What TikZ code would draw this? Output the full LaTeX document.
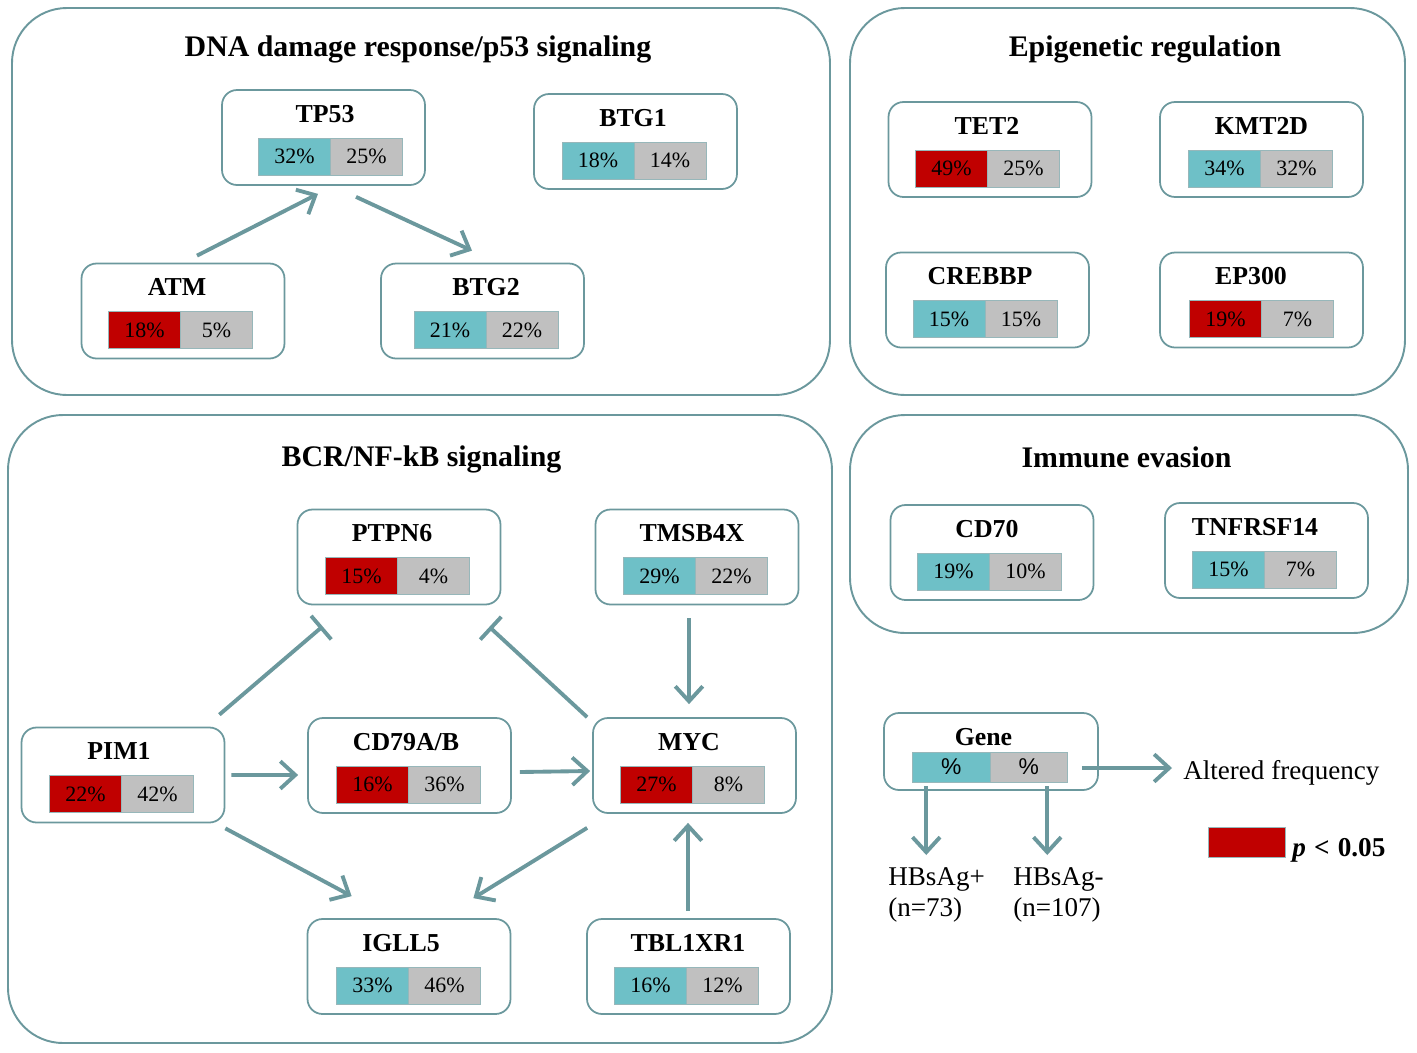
\documentclass[tikz,border=0pt]{standalone}
\usepackage{fontspec}
\setmainfont{Liberation Serif}
\setsansfont{Liberation Sans}
\usetikzlibrary{arrows.meta, calc}

\definecolor{linec}{RGB}{107,152,157}
\definecolor{tealc}{RGB}{110,192,199}
\definecolor{grayc}{RGB}{192,192,192}
\definecolor{redc}{RGB}{192,0,0}

\tikzstyle{panel}      = [draw=linec, line width=1.1pt, rounded corners=1.1cm]
\tikzstyle{paneltitle} = [anchor=base, inner sep=0pt, font=\fontsize{17}{20}\selectfont\bfseries]
\tikzstyle{genebox}    = [draw=linec, line width=1pt, rounded corners=3mm, minimum width=4.06cm, minimum height=1.9cm, inner sep=0pt]
\tikzstyle{genename}   = [anchor=base, inner sep=0pt, font=\fontsize{14.7}{16}\selectfont\bfseries]
\tikzstyle{pct}        = [draw=linec!70, line width=0.5pt, inner sep=0pt, minimum width=1.44cm, minimum height=0.74cm, font=\fontsize{12.5}{14}\selectfont]
\tikzstyle{cteal}      = [pct, fill=tealc]
\tikzstyle{cgray}      = [pct, fill=grayc]
\tikzstyle{cred}       = [pct, fill=redc]
\tikzstyle{act}        = [draw=linec, line width=2.2pt, -{Straight Barb[length=3mm, width=5.5mm]}]
\tikzstyle{inh}        = [draw=linec, line width=2.2pt, -{Bar[width=6.2mm]}]
\tikzstyle{legtext}    = [inner sep=0pt, font=\fontsize{15.4}{17.6}\selectfont]

\begin{document}
\begin{tikzpicture}[x={(0.02cm,0)}, y={(0,-0.02cm)}]
  \useasboundingbox (0,0) rectangle (1417,1052);

  % pathway panels
  \draw[panel] (12,8)   rectangle (830,395);
  \draw[panel] (850,8)  rectangle (1405,395);
  \draw[panel] (8,415)  rectangle (832,1043);
  \draw[panel] (850,415) rectangle (1408,633);

  \draw
    node[paneltitle] (dnatitle) at (418,56)    {DNA damage response/p53 signaling}
    node[paneltitle] (epititle) at (1145,56)   {Epigenetic regulation}
    node[paneltitle] (bcrtitle) at (421.5,466) {BCR/NF-kB signaling}
    node[paneltitle] (immtitle) at (1126.5,467) {Immune evasion};

  % DNA damage response/p53
  \draw
    node[genebox] (tp53) at (323.5,137.5) {}
    node[genename] (tp53n) at (325,122) {TP53}
    node[cteal] (tp53l) at (294.5,156.5) {32\%}
    node[cgray] (tp53r) at (366.5,156.5) {25\%}
    node[genebox] (btg1) at (635.5,141.5) {}
    node[genename] (btg1n) at (633,126) {BTG1}
    node[cteal] (btg1l) at (598,160.5) {18\%}
    node[cgray] (btg1r) at (670,160.5) {14\%}
    node[genebox] (atm) at (183,311) {}
    node[genename] (atmn) at (177,295.5) {ATM}
    node[cred] (atml) at (144.5,330) {18\%}
    node[cgray] (atmr) at (216.5,330) {5\%}
    node[genebox] (btg2) at (482.5,311) {}
    node[genename] (btg2n) at (486,295.5) {BTG2}
    node[cteal] (btg2l) at (450,330) {21\%}
    node[cgray] (btg2r) at (522,330) {22\%};

  % epigenetic regulation
  \draw
    node[genebox] (tet2) at (990,149.5) {}
    node[genename] (tet2n) at (987,134) {TET2}
    node[cred] (tet2l) at (951.5,168.5) {49\%}
    node[cgray] (tet2r) at (1023.5,168.5) {25\%}
    node[genebox] (kmt2d) at (1261.5,149.5) {}
    node[genename] (kmt2dn) at (1261.5,134) {KMT2D}
    node[cteal] (kmt2dl) at (1224.5,168.5) {34\%}
    node[cgray] (kmt2dr) at (1296.5,168.5) {32\%}
    node[genebox] (crebbp) at (987.5,300) {}
    node[genename] (crebbpn) at (980,284.5) {CREBBP}
    node[cteal] (crebbpl) at (949,319) {15\%}
    node[cgray] (crebbpr) at (1021,319) {15\%}
    node[genebox] (ep300) at (1261.5,300) {}
    node[genename] (ep300n) at (1251,284.5) {EP300}
    node[cred] (ep300l) at (1225.5,319) {19\%}
    node[cgray] (ep300r) at (1297.5,319) {7\%};

  % BCR/NF-kB
  \draw
    node[genebox] (ptpn6) at (399,557) {}
    node[genename] (ptpn6n) at (392,541.5) {PTPN6}
    node[cred] (ptpn6l) at (361.5,576) {15\%}
    node[cgray] (ptpn6r) at (433.5,576) {4\%}
    node[genebox] (tmsb4x) at (697,557) {}
    node[genename] (tmsb4xn) at (692,541.5) {TMSB4X}
    node[cteal] (tmsb4xl) at (659.5,576) {29\%}
    node[cgray] (tmsb4xr) at (731.5,576) {22\%}
    node[genebox] (pim1) at (123,775) {}
    node[genename] (pim1n) at (119,759.5) {PIM1}
    node[cred] (pim1l) at (85.5,794) {22\%}
    node[cgray] (pim1r) at (157.5,794) {42\%}
    node[genebox] (cd79) at (409.5,765.5) {}
    node[genename] (cd79n) at (406,750) {CD79A/B}
    node[cred] (cd79l) at (372.5,784.5) {16\%}
    node[cgray] (cd79r) at (444.5,784.5) {36\%}
    node[genebox] (myc) at (694.5,765.5) {}
    node[genename] (mycn) at (689,750) {MYC}
    node[cred] (mycl) at (656.5,784.5) {27\%}
    node[cgray] (mycr) at (728.5,784.5) {8\%}
    node[genebox] (igll5) at (409,966.5) {}
    node[genename] (igll5n) at (401,951) {IGLL5}
    node[cteal] (igll5l) at (372.5,985.5) {33\%}
    node[cgray] (igll5r) at (444.5,985.5) {46\%}
    node[genebox] (tbl1xr1) at (688.5,966.5) {}
    node[genename] (tbl1xr1n) at (688,951) {TBL1XR1}
    node[cteal] (tbl1xr1l) at (650.5,985.5) {16\%}
    node[cgray] (tbl1xr1r) at (722.5,985.5) {12\%};

  % immune evasion
  \draw
    node[genebox] (cd70) at (992,552.5) {}
    node[genename] (cd70n) at (987,537) {CD70}
    node[cteal] (cd70l) at (953.5,571.5) {19\%}
    node[cgray] (cd70r) at (1025.5,571.5) {10\%}
    node[genebox] (tnfrsf14) at (1266.5,550.5) {}
    node[genename] (tnfrsf14n) at (1255,535) {TNFRSF14}
    node[cteal] (tnfrsf14l) at (1228.5,569.5) {15\%}
    node[cgray] (tnfrsf14r) at (1300.5,569.5) {7\%};

  % legend
  \draw
    node[genebox, minimum width=4.28cm, minimum height=1.54cm] (leg) at (991,751.5) {}
    node[genename] (legn) at (983.5,745) {Gene}
    node[cteal, minimum width=1.55cm, minimum height=0.6cm, font=\sffamily\fontsize{13}{14}\selectfont] (legl) at (951.25,767) {\%}
    node[cgray, minimum width=1.55cm, minimum height=0.6cm, font=\sffamily\fontsize{13}{14}\selectfont] (legr) at (1028.75,767) {\%}
    node[legtext, anchor=base west] (altfreq) at (1183,779) {Altered frequency}
    node[legtext, anchor=north west, align=left] (hbpos) at (888,867) {HBsAg+\\(n=73)}
    node[legtext, anchor=north west, align=left] (hbneg) at (1013,867) {HBsAg-\\(n=107)}
    node[pct, fill=redc, minimum width=1.54cm, minimum height=0.6cm] (pred) at (1246.5,842) {}
    node[legtext, anchor=base west, font=\fontsize{15.5}{17}\selectfont\bfseries] (pval) at (1292,856) {\textit{p}\hspace{0.3em}<\hspace{0.3em}0.05};

  % connectors
  \draw[act] ($(atm.north)+(14,-7)$) -- ($(tp53.south)+(-5.5,8)$);
  \draw[act] ($(tp53.south)+(32.5,11)$) -- ($(btg2.north)+(-10.5,-12)$);
  \draw[inh] ($(pim1.north east)+(-6,-12)$) -- ($(ptpn6.south west)+(26,21)$);
  \draw[inh] ($(myc.north west)+(-5,0)$) -- ($(ptpn6.south east)+(-12,21.5)$);
  \draw[act] ($(tmsb4x.south)+(-8,13)$) -- ($(myc.north)+(-5.5,-13)$);
  \draw[act] ($(pim1.east)+(6,0)$) -- ($(cd79.west)+(-9,9.5)$);
  \draw[act] ($(cd79.east)+(8,6.5)$) -- ($(myc.west)+(-2,5.5)$);
  \draw[act] ($(pim1.south east)+(0,5)$) -- ($(igll5.north west)+(45,-22)$);
  \draw[act] ($(myc.south west)+(-5,14)$) -- ($(igll5.north east)+(-38,-20)$);
  \draw[act] ($(tbl1xr1.north)+(-0.5,-7)$) -- ($(myc.south)+(-6.5,9)$);

  \draw[act, shorten >=0.22cm] ($(legr.east)+(14,1)$) coordinate (legra) -- (legra -| altfreq.west);
  \draw[act, shorten >=0.24cm] ($(legl.south)+(-25,4)$) coordinate (legls) -- (legls |- hbpos.north);
  \draw[act, shorten >=0.24cm] ($(legr.south)+(18.5,4)$) coordinate (legrs) -- (legrs |- hbneg.north);
\end{tikzpicture}
\end{document}
